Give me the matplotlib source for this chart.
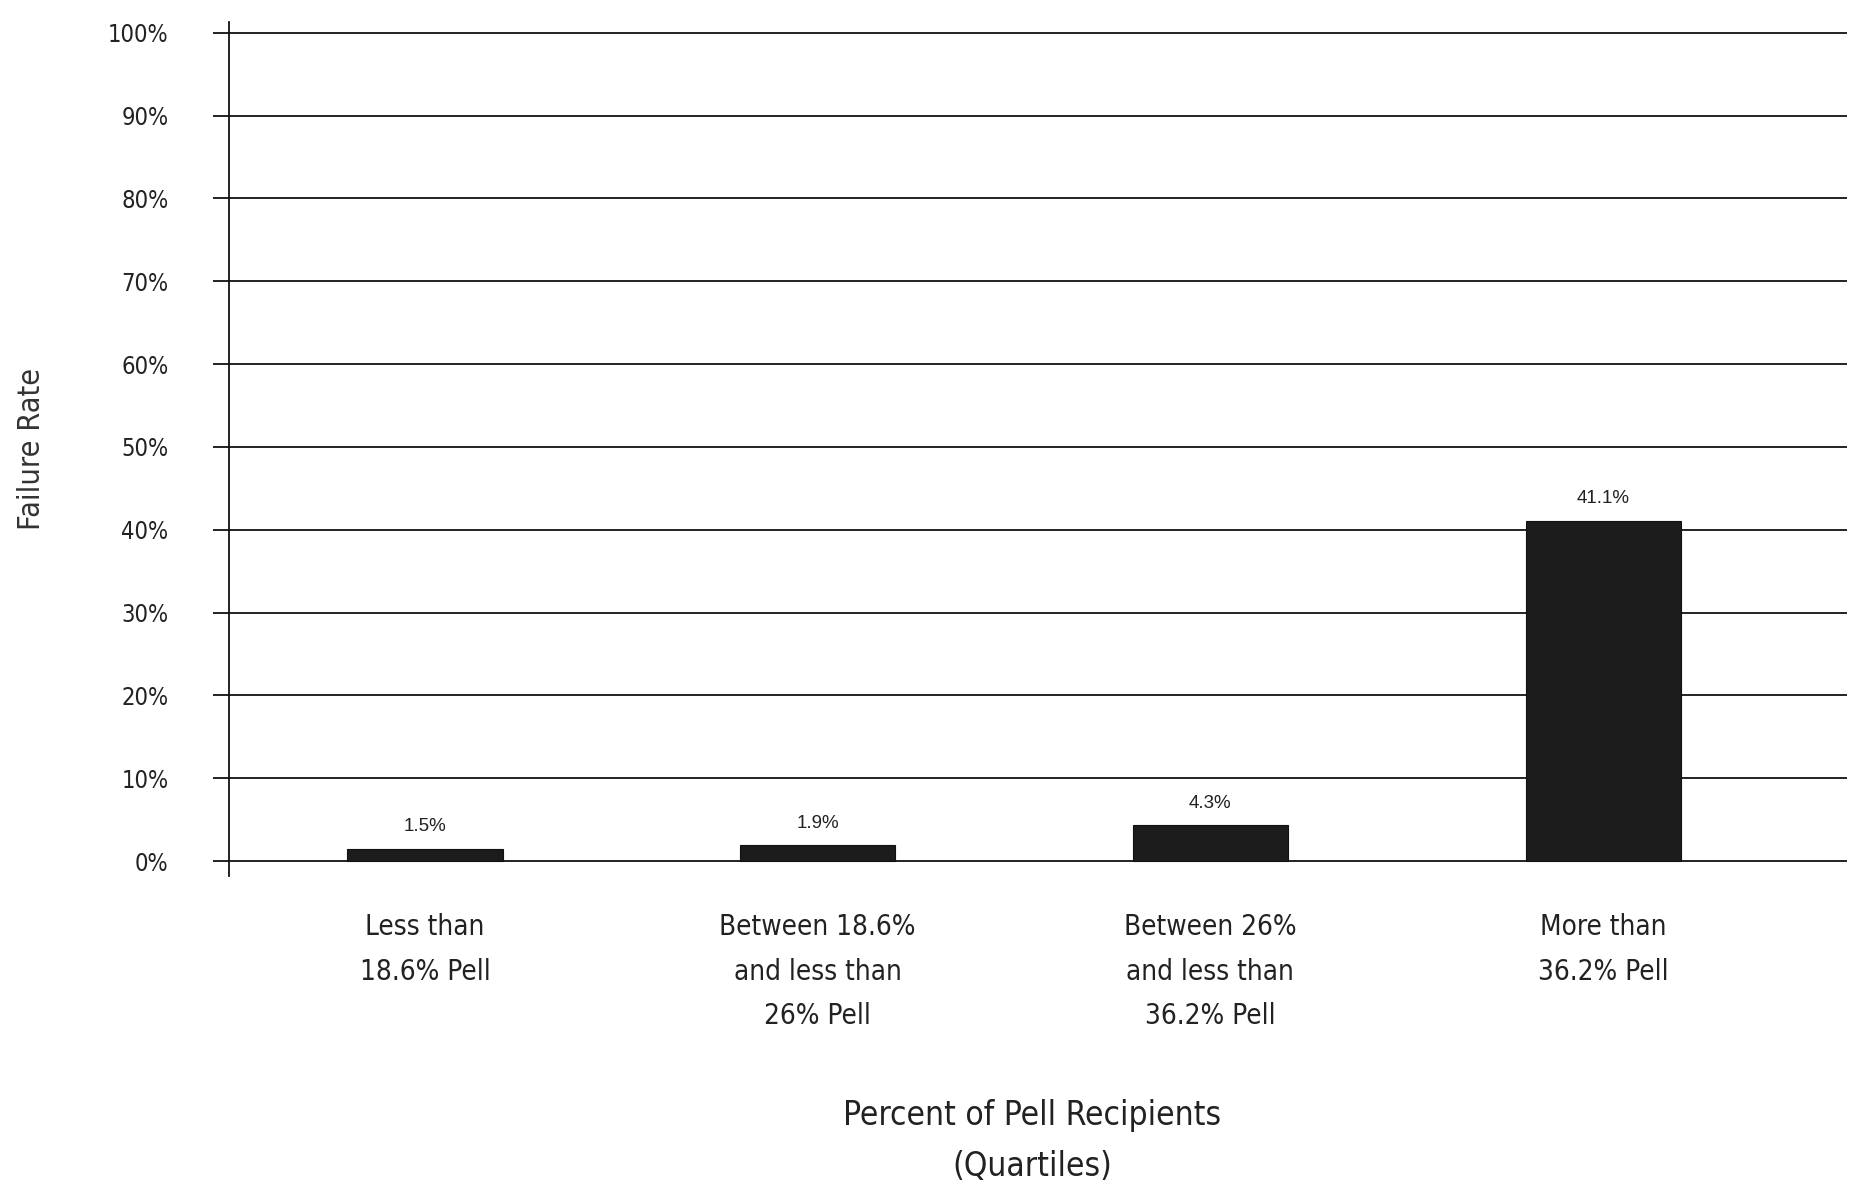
"""Failure rate by quartile of Pell recipients"""
import matplotlib
matplotlib.use('Agg')
from matplotlib import pyplot as plt
from matplotlib import font_manager

categories = [
    'Less than\n18.6% Pell',
    'Between 18.6%\nand less than\n26% Pell',
    'Between 26%\nand less than\n36.2% Pell',
    'More than\n36.2% Pell',
]
failure_rate = [1.5, 1.9, 4.3, 41.1]
value_labels = ['1.5%', '1.9%', '4.3%', '41.1%']
yticks = list(range(0, 101, 10))
ytick_labels = ['%d%%' % v for v in yticks]

# condensed face if we have one
_names = {f.name for f in font_manager.fontManager.ttflist}
if 'Liberation Sans Narrow' in _names:
    COND = dict(family='Liberation Sans Narrow')
else:
    COND = dict(family='DejaVu Sans', stretch='condensed')

fig = plt.figure(figsize=(18.54, 11.91), dpi=100)
ax = fig.add_axes([229 / 1854, 0.2645, 1618 / 1854, 0.717])

x = list(range(len(categories)))
ax.bar(x, failure_rate, width=0.395, color='#1c1c1c', edgecolor='#111111',
       linewidth=0.8, zorder=3)

for xi, v, lab in zip(x, failure_rate, value_labels):
    ax.annotate(lab, (xi, v), xytext=(0, 16), textcoords='offset points',
                ha='center', va='center', fontsize=13.5,
                family='Liberation Sans', color='#222222')

ax.set_xlim(-0.499, 3.621)
ax.set_ylim(-1.8, 101.3)
ax.set_yticks(yticks)
ax.set_yticklabels(ytick_labels, fontsize=17, color='#222222', **COND)
ax.yaxis.grid(True, color='#111111', linewidth=1.3, zorder=1)
ax.tick_params(axis='y', length=11.5, width=1.3, pad=32, color='#111111')

ax.set_xticks([])
for xi, cat in zip(x, categories):
    ax.text(xi, -6.3, cat, ha='center', va='top', fontsize=20,
            linespacing=1.75, color='#222222', **COND)

for side in ('top', 'right', 'bottom'):
    ax.spines[side].set_visible(False)
ax.spines['left'].set_linewidth(1.3)
ax.spines['left'].set_color('#111111')

fig.text(1032 / 1854, 1 - 1141 / 1191, 'Percent of Pell Recipients\n(Quartiles)',
         ha='center', va='center', fontsize=24, linespacing=1.7,
         color='#222222', **COND)
fig.text(32 / 1854, 1 - 449 / 1191, 'Failure Rate', rotation=90,
         ha='center', va='center', fontsize=22, color='#333333', **COND)

fig.savefig('out.png', dpi=100)
